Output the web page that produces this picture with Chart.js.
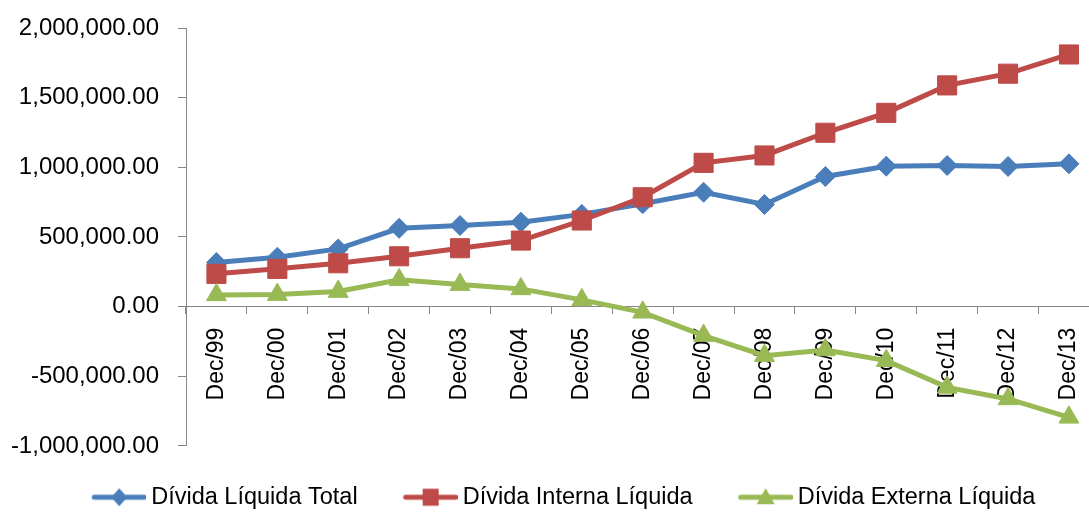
<!DOCTYPE html>
<html>
<head>
<meta charset="utf-8">
<script src="https://cdn.jsdelivr.net/npm/chart.js@4/dist/chart.umd.min.js"></script>
<style>
  html, body { margin: 0; padding: 0; background: #ffffff; overflow: hidden; }
  #wrap { width: 1110px; height: 519px; position: relative; }
</style>
</head>
<body>
<div id="wrap"><canvas id="chart"></canvas></div>
<script>
// Net debt series, December of each year
const categories = ['Dec/99', 'Dec/00', 'Dec/01', 'Dec/02', 'Dec/03', 'Dec/04', 'Dec/05',
                    'Dec/06', 'Dec/07', 'Dec/08', 'Dec/09', 'Dec/10', 'Dec/11', 'Dec/12', 'Dec/13'];
const dividaLiquidaTotal   = [316000, 354000, 414000, 562000, 582000, 606000, 662000,
                              738000, 821000, 733000, 934000, 1008000, 1013000, 1006000, 1025000];
const dividaInternaLiquida = [235000, 271000, 311000, 361000, 419000, 474000, 618000,
                              785000, 1032000, 1085000, 1248000, 1391000, 1588000, 1672000, 1810000];
const dividaExternaLiquida = [84000, 86000, 108000, 192000, 158000, 127000, 48000,
                              -41000, -208000, -352000, -311000, -388000, -580000, -663000, -795000];
const seriesLabels = ['Dívida Líquida Total', 'Dívida Interna Líquida', 'Dívida Externa Líquida'];
const yMin = -1000000;
const yMax = 2000000;
const yStep = 500000;

const BLUE = '#4A7EBB';
const RED = '#BE4B48';
const GREEN = '#98B954';
const AXIS = '#868686';
const FAMILY = "'Liberation Sans', Arial, sans-serif";

// Legend key width (slot reserved before each label) and the key image drawn in it
const KEY_SLOT = 75.5;
const KEY_W = Math.round(KEY_SLOT + 13.5);

// Legend key: a short line with the series marker in the middle, flush right
function legendKey(color, shape) {
  const c = document.createElement('canvas');
  c.width = KEY_W; c.height = 24;
  const g = c.getContext('2d');
  g.strokeStyle = color; g.fillStyle = color;
  g.lineWidth = 5; g.lineCap = 'round';
  const x0 = KEY_W - 52, x1 = KEY_W - 2;
  g.beginPath(); g.moveTo(x0, 12); g.lineTo(x1, 12); g.stroke();
  const cx = (x0 + x1) / 2, cy = 12;
  g.beginPath();
  if (shape === 'diamond') {
    g.moveTo(cx, cy - 9); g.lineTo(cx + 8, cy); g.lineTo(cx, cy + 9); g.lineTo(cx - 8, cy);
  } else if (shape === 'square') {
    g.rect(cx - 8, cy - 8.5, 16, 17);
  } else {
    g.moveTo(cx, cy - 9); g.lineTo(cx + 9, cy + 7); g.lineTo(cx - 9, cy + 7);
  }
  g.closePath(); g.fill();
  return c;
}
const legendKeys = [legendKey(BLUE, 'diamond'), legendKey(RED, 'square'), legendKey(GREEN, 'triangle')];

const fmt = v => Number(v).toLocaleString('en-US', { minimumFractionDigits: 2, maximumFractionDigits: 2 });

new Chart(document.getElementById('chart'), {
  type: 'line',
  data: {
    labels: categories,
    datasets: [
      { label: seriesLabels[0], data: dividaLiquidaTotal, borderColor: BLUE, backgroundColor: BLUE,
        pointStyle: 'rectRot', pointRadius: 10, pointBorderWidth: 1, order: 3 },
      { label: seriesLabels[1], data: dividaInternaLiquida, borderColor: RED, backgroundColor: RED,
        pointStyle: 'rect', pointRadius: 13.5, pointBorderWidth: 1, order: 2 },
      { label: seriesLabels[2], data: dividaExternaLiquida, borderColor: GREEN, backgroundColor: GREEN,
        pointStyle: 'triangle', pointRadius: 11.5, pointBorderWidth: 1, order: 1 }
    ]
  },
  options: {
    responsive: true,
    maintainAspectRatio: false,
    devicePixelRatio: 1,
    animation: false,
    elements: { line: { borderWidth: 5, tension: 0 } },
    layout: { autoPadding: false, padding: { left: 0, right: 10.6, top: 28, bottom: 0 } },
    scales: {
      x: {
        type: 'category',
        offset: true,
        position: { y: 0 },
        ticks: { minRotation: 90, maxRotation: 90, autoSkip: false, padding: 14, color: '#000',
                 font: { family: FAMILY, size: 23 } },
        grid: { offset: true, drawOnChartArea: false, drawTicks: true, tickLength: 7, color: AXIS },
        border: { color: AXIS, width: 1 },
        afterFit: s => { s.paddingLeft = 0; s.paddingRight = 0; }
      },
      y: {
        min: yMin,
        max: yMax,
        ticks: { stepSize: yStep, padding: 19, color: '#000', font: { family: FAMILY, size: 24 }, callback: fmt },
        grid: { drawOnChartArea: false, drawTicks: true, tickLength: 8, color: AXIS },
        border: { color: AXIS, width: 1 },
        afterFit: s => { s.width = 186; s.paddingTop = 0; s.paddingBottom = 0; }
      }
    },
    plugins: {
      tooltip: { enabled: false },
      legend: {
        position: 'bottom',
        title: { display: true, text: ' ', color: 'rgba(0,0,0,0)', font: { size: 10, lineHeight: 1.2 },
                 padding: { top: 4.9, bottom: 4.9 } },
        labels: {
          usePointStyle: true,
          pointStyleWidth: KEY_SLOT,
          padding: 17.8,
          color: '#000',
          font: { family: FAMILY, size: 23.5 },
          generateLabels: chart => chart.data.datasets.map((ds, i) => ({
            text: ds.label, pointStyle: legendKeys[i], datasetIndex: i, hidden: false,
            lineWidth: 0, strokeStyle: 'rgba(0,0,0,0)', fillStyle: 'rgba(0,0,0,0)', fontColor: '#000'
          }))
        }
      }
    }
  }
});
</script>
</body>
</html>
